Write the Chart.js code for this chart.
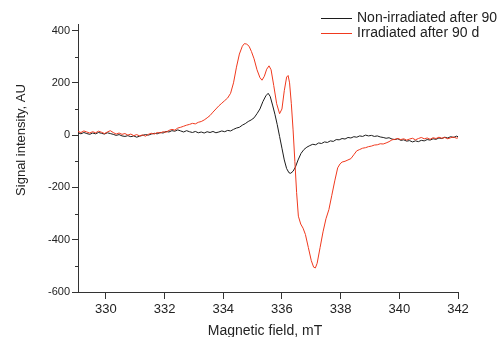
<!DOCTYPE html>
<html>
<head>
<meta charset="utf-8">
<script src="https://cdn.jsdelivr.net/npm/chart.js@4/dist/chart.umd.min.js"></script>
<style>
  html, body { margin: 0; padding: 0; background: #fff; }
  canvas { display: block; }
</style>
</head>
<body>
<canvas id="grafico" width="499" height="337"></canvas>
<script>
// Non-irradiated after 90 d (black)
const campoNegro = [
  329.05, 329.15, 329.25, 329.35, 329.45, 329.55, 329.65, 329.75, 329.85, 329.95,
  330.05, 330.15, 330.25, 330.35, 330.45, 330.55, 330.65, 330.75, 330.85, 330.95,
  331.05, 331.15, 331.25, 331.35, 331.45, 331.55, 331.65, 331.75, 331.85, 331.95,
  332.05, 332.15, 332.25, 332.35, 332.45, 332.55, 332.65, 332.75, 332.85, 332.95,
  333.05, 333.15, 333.25, 333.35, 333.45, 333.55, 333.65, 333.75, 333.85, 333.95,
  334.05, 334.15, 334.25, 334.35, 334.45, 334.55, 334.65, 334.75, 334.85, 334.95,
  335.05, 335.15, 335.25, 335.35, 335.45, 335.53, 335.60, 335.68, 335.76, 335.84,
  335.92, 336.00, 336.08, 336.16, 336.24, 336.30, 336.38, 336.46, 336.55, 336.65,
  336.75, 336.85, 336.95, 337.05, 337.15, 337.25, 337.35, 337.45, 337.55, 337.65,
  337.75, 337.85, 337.95, 338.05, 338.15, 338.25, 338.35, 338.45, 338.55, 338.65,
  338.75, 338.85, 338.95, 339.05, 339.15, 339.25, 339.35, 339.45, 339.55, 339.65,
  339.75, 339.85, 339.95, 340.05, 340.15, 340.25, 340.35, 340.45, 340.55, 340.65,
  340.75, 340.85, 340.95, 341.05, 341.15, 341.25, 341.35, 341.45, 341.55, 341.65,
  341.75, 341.85, 341.95, 342.00
];
const senalNegro = [
  9, 5, 10, 6, 3, 8, 5, 10, 7, 4,
  9, 6, 3, -1, 2, -3, -5, -2, -6, -3,
  -8, -4, -1, 2, 0, 4, 7, 5, 10, 8,
  14, 12, 17, 15, 20, 16, 12, 17, 13, 10,
  14, 9, 12, 8, 13, 10, 14, 9, 12, 16,
  13, 18, 16, 22, 27, 30, 38, 44, 52, 58,
  66, 82, 100, 128, 150, 160, 148, 115, 80, 40,
  -5, -50, -95, -128, -144, -146, -138, -122, -95, -70,
  -55, -46, -40, -35, -37, -30, -32, -26, -28, -22,
  -24, -17, -18, -13, -15, -9, -11, -6, -8, -3,
  -5, 0, -3, -1, -5, -3, -7, -9, -12, -10,
  -15, -17, -14, -20, -18, -23, -21, -26, -22, -25,
  -20, -22, -17, -19, -14, -16, -11, -13, -8, -11,
  -6, -9, -4, -6
];

// Irradiated after 90 d (red)
const campoRojo = [
  329.05, 329.15, 329.25, 329.35, 329.45, 329.55, 329.65, 329.75, 329.85, 329.95,
  330.05, 330.15, 330.25, 330.35, 330.45, 330.55, 330.65, 330.75, 330.85, 330.95,
  331.05, 331.15, 331.25, 331.35, 331.45, 331.55, 331.65, 331.75, 331.85, 331.95,
  332.05, 332.15, 332.25, 332.35, 332.45, 332.55, 332.65, 332.75, 332.85, 332.95,
  333.05, 333.15, 333.25, 333.35, 333.45, 333.55, 333.65, 333.75, 333.85, 333.95,
  334.05, 334.15, 334.25, 334.35, 334.45, 334.55, 334.65, 334.72, 334.80, 334.88,
  334.96, 335.05, 335.15, 335.25, 335.32, 335.40, 335.48, 335.56, 335.63, 335.72,
  335.82, 335.92, 336.00, 336.08, 336.16, 336.21, 336.26, 336.32, 336.38, 336.44,
  336.50, 336.56, 336.64, 336.72, 336.80, 336.90, 337.00, 337.08, 337.14, 337.20,
  337.30, 337.40, 337.50, 337.60, 337.70, 337.80, 337.90, 337.98, 338.05, 338.15,
  338.25, 338.35, 338.45, 338.55, 338.65, 338.75, 338.85, 338.95, 339.05, 339.15,
  339.25, 339.35, 339.45, 339.55, 339.65, 339.75, 339.85, 339.95, 340.05, 340.15,
  340.25, 340.35, 340.45, 340.55, 340.65, 340.75, 340.85, 340.95, 341.05, 341.15,
  341.25, 341.35, 341.45, 341.55, 341.65, 341.75, 341.85, 341.95, 342.00
];
const senalRojo = [
  14, 10, 16, 12, 8, 13, 9, 15, 11, 6,
  12, 17, 10, 4, 8, 3, 6, 0, 4, -2,
  2, -3, 1, -4, 3, 7, 4, 10, 8, 13,
  11, 18, 22, 19, 27, 30, 34, 38, 41, 45,
  43, 49, 52, 58, 66, 75, 88, 100, 112, 122,
  132, 142, 160, 200, 260, 310, 340, 350, 348, 340,
  320, 292, 250, 220, 210, 225, 252, 265, 250, 190,
  120, 82, 100, 170, 222, 228, 200, 120, 20, -100,
  -220, -310, -340, -356, -380, -430, -480, -505, -508, -490,
  -430, -370, -320, -285, -230, -175, -125, -110, -103, -100,
  -95, -90, -75, -60, -55, -50, -48, -44, -42, -38,
  -37, -33, -34, -30, -25, -18, -16, -13, -17, -14,
  -19, -15, -12, -18, -13, -9, -14, -11, -16, -10,
  -13, -8, -12, -9, -14, -10, -7, -12, -10
];

const etiquetas = ["Non-irradiated after 90 d", "Irradiated after 90 d"];
const colores = ["#1c1c1c", "#f0391e"];
const ticksX = [330, 332, 334, 336, 338, 340, 342];
const ticksY = [-600, -400, -200, 0, 200, 400];
const ticksMenores = [-500, -300, -100, 100, 300];

const aPuntos = (xs, ys) => xs.map((x, i) => ({ x: x, y: ys[i] }));

// ticks menores, títulos de ejes y leyenda dibujados a mano
const extras = {
  id: "extras",
  afterDraw(chart) {
    const ctx = chart.ctx;
    const y = chart.scales.y;
    const area = chart.chartArea;
    ctx.save();
    ctx.strokeStyle = "#333";
    ctx.lineWidth = 1;
    ticksMenores.forEach(v => {
      const py = Math.round(y.getPixelForValue(v)) + 0.5;
      ctx.beginPath();
      ctx.moveTo(area.left - 3, py);
      ctx.lineTo(area.left, py);
      ctx.stroke();
    });

    ctx.fillStyle = "#222";
    ctx.font = "14px 'Liberation Sans', Arial, sans-serif";
    ctx.textAlign = "center";
    ctx.textBaseline = "middle";
    ctx.fillText("Magnetic field, mT", 265, 331);

    ctx.save();
    ctx.translate(21, 140);
    ctx.rotate(-Math.PI / 2);
    ctx.font = "13px 'Liberation Sans', Arial, sans-serif";
    ctx.fillText("Signal intensity, AU", 0, 0);
    ctx.restore();

    ctx.font = "14px 'Liberation Sans', Arial, sans-serif";
    ctx.textAlign = "left";
    etiquetas.forEach((txt, i) => {
      const ly = 18 + i * 15;
      ctx.strokeStyle = colores[i];
      ctx.beginPath();
      ctx.moveTo(321, ly + 0.5);
      ctx.lineTo(352, ly + 0.5);
      ctx.stroke();
      ctx.fillStyle = "#222";
      ctx.fillText(txt, 357, ly);
    });
    ctx.restore();
  }
};

new Chart(document.getElementById("grafico"), {
  type: "line",
  data: {
    datasets: [
      {
        label: etiquetas[0],
        data: aPuntos(campoNegro, senalNegro),
        borderColor: colores[0],
        borderWidth: 1,
        pointRadius: 0,
        tension: 0,
        order: 1
      },
      {
        label: etiquetas[1],
        data: aPuntos(campoRojo, senalRojo),
        borderColor: colores[1],
        borderWidth: 1,
        pointRadius: 0,
        tension: 0,
        order: 0
      }
    ]
  },
  options: {
    responsive: false,
    animation: false,
    devicePixelRatio: 1,
    layout: { padding: { left: 0, right: 41, top: 24, bottom: 0 } },
    plugins: {
      legend: { display: false },
      tooltip: { enabled: false }
    },
    scales: {
      x: {
        type: "linear",
        min: 329.05,
        max: 342,
        afterFit: s => { s.height = 45; },
        afterBuildTicks: s => { s.ticks = ticksX.map(v => ({ value: v })); },
        border: { display: true, color: "#333", width: 1 },
        grid: { drawOnChartArea: false, tickLength: 7, tickColor: "#333" },
        ticks: {
          autoSkip: false,
          maxRotation: 0,
          padding: 3,
          color: "#222",
          font: { family: "'Liberation Sans', Arial, sans-serif", size: 13 }
        }
      },
      y: {
        min: -600,
        max: 425,
        afterFit: s => { s.width = 78; },
        afterBuildTicks: s => { s.ticks = ticksY.map(v => ({ value: v })); },
        border: { display: true, color: "#333", width: 1 },
        grid: { drawOnChartArea: false, tickLength: 6, tickColor: "#333" },
        ticks: {
          autoSkip: false,
          padding: 2,
          color: "#222",
          font: { family: "'Liberation Sans', Arial, sans-serif", size: 11 }
        }
      }
    }
  },
  plugins: [extras]
});
</script>
</body>
</html>
